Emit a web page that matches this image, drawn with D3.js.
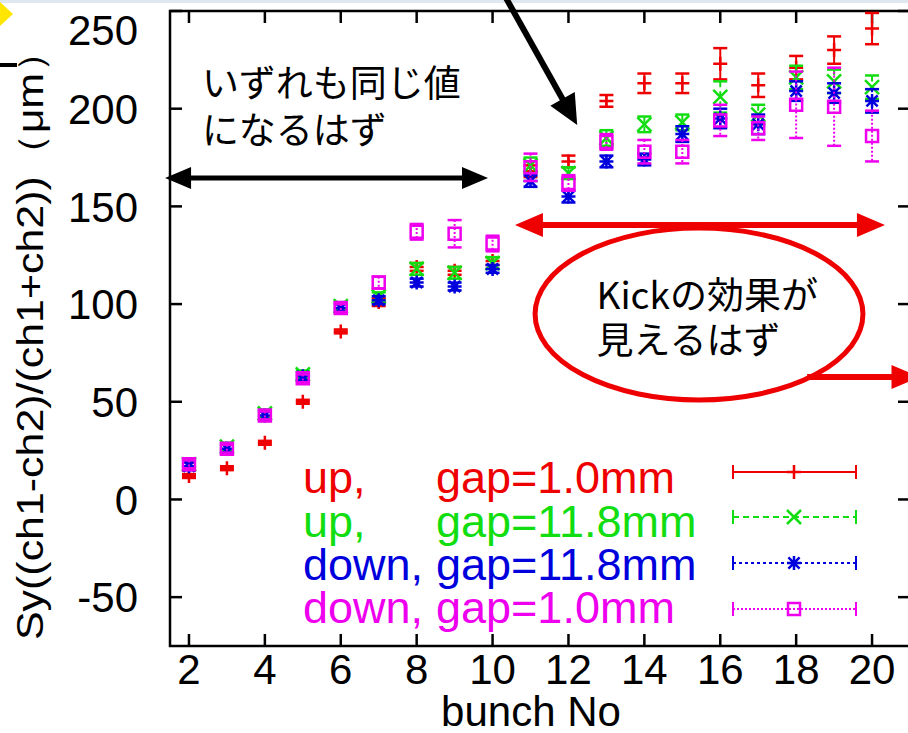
<!DOCTYPE html>
<html>
<head>
<meta charset="utf-8">
<script src="https://cdn.jsdelivr.net/npm/d3@7"></script>
<style>
  html, body { margin: 0; padding: 0; background: #fff; }
  svg { display: block; }
</style>
</head>
<body>
<div id="chart"></div>
<script>
'use strict';

var bunchNo = [2, 3, 4, 5, 6, 7, 8, 9, 10, 11, 12, 13, 14, 15, 16, 17, 18, 19, 20];

var upGap10 = [12, 16, 29, 50, 86, 101, 119, 117, 122, 168, 173, 204, 213, 213, 223, 212, 221, 230, 241];
var upGap10Err = [1, 1, 1, 1, 1, 2, 2, 2, 2, 3, 3, 3, 5, 5, 8, 6, 6, 7, 8];
var upGap118 = [18, 27, 44, 64, 99, 104, 118, 116, 121, 171, 167, 185, 192, 193, 206, 197, 216, 214, 211];
var upGap118Err = [2, 2, 2, 2, 2, 2, 3, 3, 3, 4, 3, 4, 4, 4, 8, 5, 6, 6, 6];
var downGap118 = [17, 26, 43, 63, 98, 102, 111, 109, 118, 163, 155, 173, 174, 187, 195, 192, 209, 208, 204];
var downGap118Err = [2, 2, 2, 2, 2, 2, 2, 2, 2, 3, 3, 3, 3, 4, 5, 5, 5, 5, 6];
var downGap10 = [18, 26, 43, 62, 98, 111, 137, 136, 131, 170, 162, 183, 178, 178, 194, 190, 202, 201, 186];
var downGap10Err = [2, 2, 2, 2, 2, 3, 4, 7, 4, 7, 4, 4, 6, 6, 8, 6, 17, 20, 13];

var seriesNames = ['up,', 'up,', 'down,', 'down,'];
var seriesGaps = ['gap=1.0mm', 'gap=11.8mm', 'gap=11.8mm', 'gap=1.0mm'];
var xTicks = [2, 4, 6, 8, 10, 12, 14, 16, 18, 20];
var yTicks = [-50, 0, 50, 100, 150, 200, 250];
var xLabel = 'bunch No';
var yLabel = 'Sy((ch1-ch2)/(ch1+ch2))（μm）';
var noteSame = ['いずれも同じ値', 'になるはず'];
var noteKick = ['Kickの効果が', '見えるはず'];

var width = 908;
var height = 733;
var red = '#ee0000';
var green = '#11dd11';
var blue = '#0000dd';
var magenta = '#ee00ee';
var latinFont = '"Liberation Sans", Arial, sans-serif';
var cjkFont = '"Noto Sans CJK JP", sans-serif';

var series = [
  { values: upGap10, err: upGap10Err, color: red, dash: null, marker: 'plus' },
  { values: upGap118, err: upGap118Err, color: green, dash: '6,4', marker: 'cross' },
  { values: downGap118, err: downGap118Err, color: blue, dash: '3,3', marker: 'star' },
  { values: downGap10, err: downGap10Err, color: magenta, dash: '2,2', marker: 'square' }
];

var x = d3.scaleLinear().domain([1.5, 21]).range([170, 910]);
var y = d3.scaleLinear().domain([-75, 250]).range([646, 11]);

var svg = d3.select('#chart').append('svg')
  .attr('width', width).attr('height', height);

svg.append('rect').attr('width', width).attr('height', height).attr('fill', '#fff');
svg.append('line').attr('x1', 0).attr('x2', width).attr('y1', 1.5).attr('y2', 1.5)
  .attr('stroke', '#dfe8f0').attr('stroke-width', 3);

// bits of the slide that show at the top left corner
svg.append('path').attr('d', 'M0,2L13,14L0,26Z').attr('fill', '#ffe600');
svg.append('line').attr('x1', 0).attr('x2', 17).attr('y1', 65).attr('y2', 65)
  .attr('stroke', '#000').attr('stroke-width', 4);

function markerPath(type, s) {
  if (type === 'plus') return 'M' + -s + ',0H' + s + 'M0,' + -s + 'V' + s;
  if (type === 'cross') return 'M' + -s + ',' + -s + 'L' + s + ',' + s + 'M' + -s + ',' + s + 'L' + s + ',' + -s;
  if (type === 'star') {
    var d = s * 0.8;
    return 'M' + -s + ',0H' + s + 'M0,' + -s + 'V' + s +
      'M' + -d + ',' + -d + 'L' + d + ',' + d + 'M' + -d + ',' + d + 'L' + d + ',' + -d;
  }
  return 'M' + -s + ',' + -s + 'H' + s + 'V' + s + 'H' + -s + 'Z';
}

// frame
var frame = svg.append('g');
frame.append('rect')
  .attr('x', x(1.5)).attr('y', y(250))
  .attr('width', x(21) - x(1.5)).attr('height', y(-75) - y(250))
  .attr('fill', 'none').attr('stroke', '#000').attr('stroke-width', 2.5);

var tickLen = 12;
xTicks.forEach(function (t) {
  frame.append('line').attr('x1', x(t)).attr('x2', x(t)).attr('y1', y(-75)).attr('y2', y(-75) - tickLen)
    .attr('stroke', '#000').attr('stroke-width', 2.5);
  frame.append('line').attr('x1', x(t)).attr('x2', x(t)).attr('y1', y(250)).attr('y2', y(250) + tickLen)
    .attr('stroke', '#000').attr('stroke-width', 2.5);
  frame.append('text').attr('x', x(t)).attr('y', 684)
    .attr('text-anchor', 'middle').attr('font-family', latinFont).attr('font-size', 42)
    .text(t);
});
yTicks.forEach(function (t) {
  frame.append('line').attr('x1', x(1.5)).attr('x2', x(1.5) + tickLen).attr('y1', y(t)).attr('y2', y(t))
    .attr('stroke', '#000').attr('stroke-width', 2.5);
  frame.append('line').attr('x1', x(21)).attr('x2', x(21) - tickLen).attr('y1', y(t)).attr('y2', y(t))
    .attr('stroke', '#000').attr('stroke-width', 2.5);
  frame.append('text').attr('x', 138).attr('y', Math.max(y(t), 30)).attr('dy', '0.36em')
    .attr('text-anchor', 'end').attr('font-family', latinFont).attr('font-size', 42)
    .text(t);
});

svg.append('text').attr('x', 531).attr('y', 726)
  .attr('text-anchor', 'middle').attr('font-family', latinFont).attr('font-size', 42)
  .text(xLabel);

svg.append('text')
  .attr('transform', 'translate(43,335) rotate(-90)')
  .attr('text-anchor', 'middle').attr('font-family', latinFont).attr('font-size', 36)
  .attr('textLength', 610).attr('lengthAdjust', 'spacingAndGlyphs')
  .text(yLabel);

// data points with error bars
var capW = 7;
series.forEach(function (s) {
  var g = svg.append('g').attr('stroke', s.color).attr('fill', 'none');
  bunchNo.forEach(function (b, i) {
    var cx = x(b);
    var top = y(s.values[i] + s.err[i]);
    var bot = y(s.values[i] - s.err[i]);
    g.append('line').attr('x1', cx).attr('x2', cx).attr('y1', top).attr('y2', bot)
      .attr('stroke-width', 2).attr('stroke-dasharray', s.dash);
    g.append('line').attr('x1', cx - capW).attr('x2', cx + capW).attr('y1', top).attr('y2', top)
      .attr('stroke-width', 2.5);
    g.append('line').attr('x1', cx - capW).attr('x2', cx + capW).attr('y1', bot).attr('y2', bot)
      .attr('stroke-width', 2.5);
    g.append('path').attr('d', markerPath(s.marker, s.marker === 'square' ? 6 : 7))
      .attr('transform', 'translate(' + cx + ',' + y(s.values[i]) + ')')
      .attr('stroke-width', 2.5);
  });
});

// key
var keyTextY = [493, 537, 580, 623];
var keySampleY = [472, 517, 563, 609];
series.forEach(function (s, i) {
  svg.append('text').attr('x', 303).attr('y', keyTextY[i])
    .attr('font-family', latinFont).attr('font-size', 45).attr('fill', s.color)
    .text(seriesNames[i]);
  svg.append('text').attr('x', 436).attr('y', keyTextY[i])
    .attr('font-family', latinFont).attr('font-size', 45).attr('fill', s.color)
    .text(seriesGaps[i]);
  var g = svg.append('g').attr('stroke', s.color).attr('fill', 'none');
  var ky = keySampleY[i];
  g.append('line').attr('x1', 733).attr('x2', 856).attr('y1', ky).attr('y2', ky)
    .attr('stroke-width', 2).attr('stroke-dasharray', s.dash);
  g.append('line').attr('x1', 733).attr('x2', 733).attr('y1', ky - 7).attr('y2', ky + 7).attr('stroke-width', 2);
  g.append('line').attr('x1', 856).attr('x2', 856).attr('y1', ky - 7).attr('y2', ky + 7).attr('stroke-width', 2);
  g.append('path').attr('d', markerPath(s.marker, s.marker === 'square' ? 6 : 7))
    .attr('transform', 'translate(794,' + ky + ')').attr('stroke-width', 2.5);
});

// annotations, placed in data units
function arrowHead(g, x1, y1, x2, y2, len, half, color) {
  var a = Math.atan2(y2 - y1, x2 - x1);
  var bx = x2 - len * Math.cos(a);
  var by = y2 - len * Math.sin(a);
  var px = -Math.sin(a) * half;
  var py = Math.cos(a) * half;
  g.append('path')
    .attr('d', 'M' + x2 + ',' + y2 + 'L' + (bx + px) + ',' + (by + py) + 'L' + (bx - px) + ',' + (by - py) + 'Z')
    .attr('fill', color).attr('stroke', 'none');
}
function arrow(x1, y1, x2, y2, color, w, len, half, both) {
  var g = svg.append('g');
  var a = Math.atan2(y2 - y1, x2 - x1);
  var sx = both ? x1 + (len - 2) * Math.cos(a) : x1;
  var sy = both ? y1 + (len - 2) * Math.sin(a) : y1;
  g.append('line').attr('x1', sx).attr('y1', sy)
    .attr('x2', x2 - (len - 2) * Math.cos(a)).attr('y2', y2 - (len - 2) * Math.sin(a))
    .attr('stroke', color).attr('stroke-width', w);
  arrowHead(g, x1, y1, x2, y2, len, half, color);
  if (both) arrowHead(g, x2, y2, x1, y1, len, half, color);
}

arrow(x(1.37), y(164.5), x(9.88), y(164.5), '#000', 5, 26, 11, true);
arrow(x(10.2), y(262), x(12.23), y(191.6), '#000', 6, 30, 14, false);

svg.append('ellipse')
  .attr('cx', x(15.44)).attr('cy', y(94.9))
  .attr('rx', x(15.44 + 4.32) - x(15.44)).attr('ry', y(94.9 - 44) - y(94.9))
  .attr('fill', '#fff').attr('stroke', red).attr('stroke-width', 5);
arrow(x(10.59), y(140.5), x(20.34), y(140.5), red, 6, 28, 12, true);
arrow(x(18.29), y(62.7), x(21.25), y(62.7), red, 6, 28, 12, false);

noteSame.forEach(function (t, i) {
  svg.append('text').attr('x', x(2.34)).attr('y', y(206 - i * 24))
    .attr('font-family', cjkFont).attr('font-size', 37).attr('fill', '#000')
    .text(t);
});
noteKick.forEach(function (t, i) {
  svg.append('text').attr('x', x(12.74)).attr('y', y(97.5 - i * 23))
    .attr('font-family', cjkFont).attr('font-size', 37).attr('fill', '#000')
    .text(t);
});
</script>
</body>
</html>
